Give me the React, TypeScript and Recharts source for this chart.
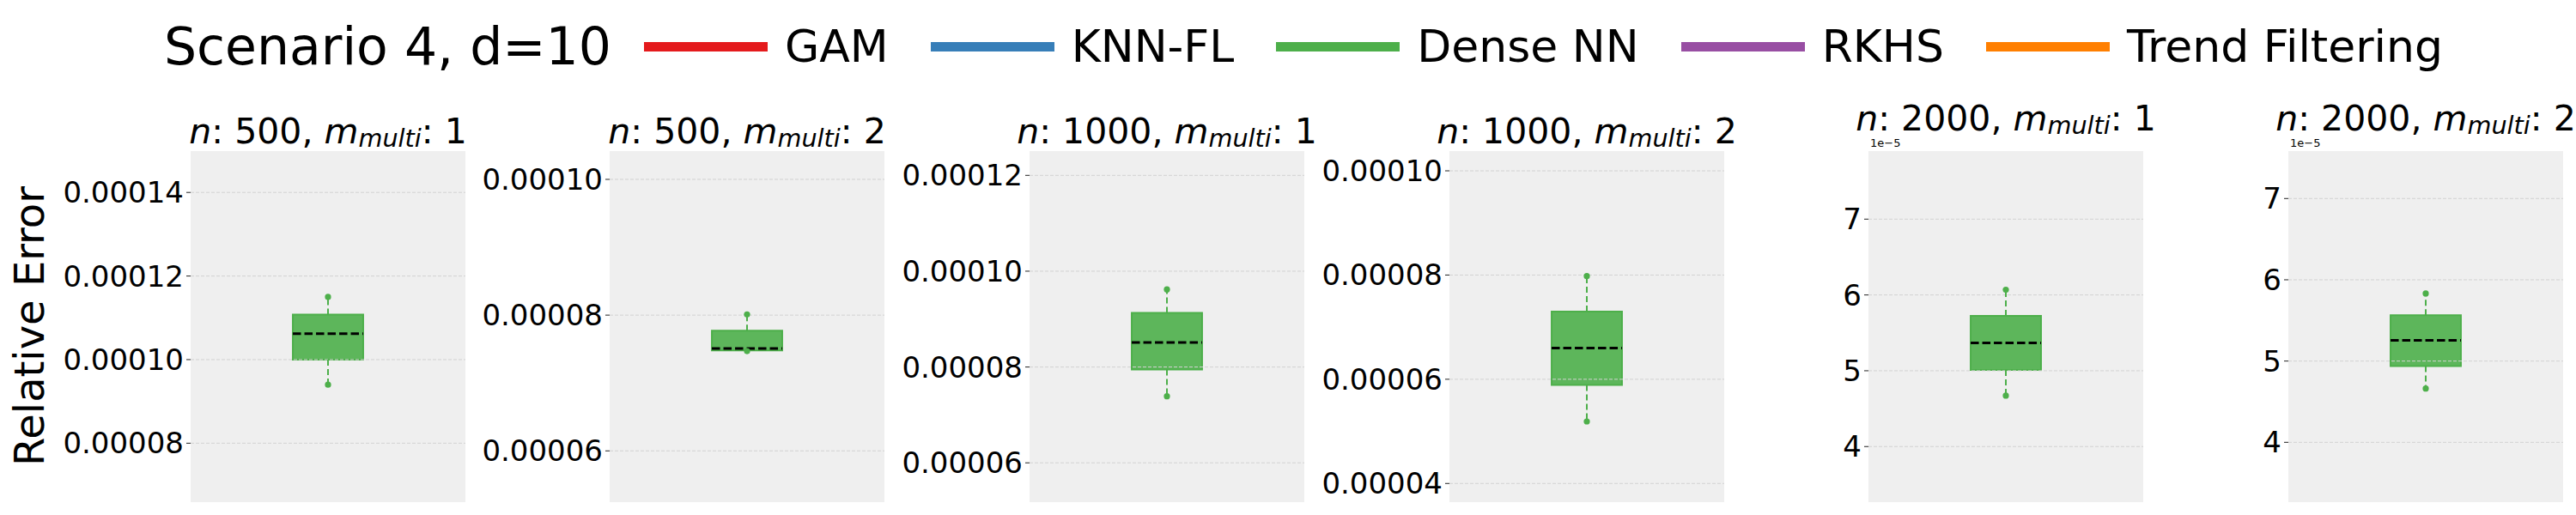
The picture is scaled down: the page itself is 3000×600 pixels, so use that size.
import React from 'react'
import { ComposedChart, XAxis, YAxis, CartesianGrid, ReferenceArea, ReferenceLine, Scatter } from 'recharts'

// panel settings
const sampleSizes = [500, 500, 1000, 1000, 2000, 2000]
const mMulti = [1, 2, 1, 2, 1, 2]

// Dense NN relative error, box summary per panel
const whiskerLow = [9.40e-5, 7.47e-5, 7.39e-5, 5.19e-5, 4.672e-5, 4.662e-5]
const quartile1 = [1.000e-4, 7.48e-5, 7.95e-5, 5.89e-5, 5.011e-5, 4.937e-5]
const medians = [1.062e-4, 7.51e-5, 8.51e-5, 6.60e-5, 5.366e-5, 5.254e-5]
const quartile3 = [1.108e-4, 7.77e-5, 9.13e-5, 7.30e-5, 5.724e-5, 5.563e-5]
const whiskerHigh = [1.150e-4, 8.01e-5, 9.62e-5, 7.98e-5, 6.068e-5, 5.831e-5]

const yDomains = [
  [6.59e-5, 1.499e-4],
  [5.245e-5, 1.0417e-4],
  [5.18e-5, 1.2507e-4],
  [3.642e-5, 1.0379e-4],
  [3.267e-5, 7.898e-5],
  [3.264e-5, 7.584e-5],
]
const yTicks = [
  [8e-5, 1e-4, 1.2e-4, 1.4e-4],
  [6e-5, 8e-5, 1e-4],
  [6e-5, 8e-5, 1e-4, 1.2e-4],
  [4e-5, 6e-5, 8e-5, 1e-4],
  [4e-5, 5e-5, 6e-5, 7e-5],
  [4e-5, 5e-5, 6e-5, 7e-5],
]
// panels whose axis shows a 1e-5 offset
const sciOffset = [false, false, false, false, true, true]

const legendLabels = ['GAM', 'KNN-FL', 'Dense NN', 'RKHS', 'Trend Filtering']
const legendColors = ['#e41a1c', '#377eb8', '#4daf4a', '#984ea3', '#ff7f00']

const FONT = '"DejaVu Sans", sans-serif'
const GREEN = '#4daf4a'
const PANEL_LEFT = [222, 710, 1199, 1688, 2176, 2665]
const PANEL_W = 320
const PANEL_TOP = 176
const PANEL_H = 409
const AXIS_W = 220
const BOX_HALF = 0.256

function Title({ i }: { i: number }) {
  const center = PANEL_LEFT[i] + PANEL_W / 2
  const top = sciOffset[i] ? 118 : 133
  return (
    <div style={{ position: 'absolute', left: center - 300, top, width: 600, textAlign: 'center', fontSize: 41, lineHeight: 1, whiteSpace: 'nowrap' }}>
      <i>n</i>: {sampleSizes[i]}, <i>m</i>
      <span style={{ fontSize: '0.7em', fontStyle: 'italic', verticalAlign: '-4px' }}>multi</span>: {mMulti[i]}
    </div>
  )
}

function Panel({ i }: { i: number }) {
  const [lo, hi] = yDomains[i]
  const dots = [
    { x: 0, y: whiskerLow[i] },
    { x: 0, y: whiskerHigh[i] },
  ]
  const fmt = (v: number) => (sciOffset[i] ? (v / 1e-5).toFixed(0) : v.toFixed(5))
  return (
    <>
      <Title i={i} />
      {sciOffset[i] && (
        <div style={{ position: 'absolute', left: PANEL_LEFT[i] + 2, top: 160, fontSize: 13, lineHeight: 1 }}>1e−5</div>
      )}
      <div style={{ position: 'absolute', left: PANEL_LEFT[i] - AXIS_W, top: PANEL_TOP }}>
        <ComposedChart width={AXIS_W + PANEL_W} height={PANEL_H} margin={{ top: 0, right: 0, bottom: 0, left: 0 }}>
          <CartesianGrid horizontal={false} vertical={false} fill="#efefef" stroke="none" />
          <XAxis type="number" dataKey="x" domain={[-1, 1]} hide />
          <YAxis
            type="number"
            dataKey="y"
            domain={[lo, hi]}
            ticks={yTicks[i]}
            interval={0}
            width={AXIS_W}
            axisLine={false}
            tickSize={5}
            tickMargin={3}
            tickLine={{ stroke: '#222', strokeWidth: 1 }}
            tick={{ fontSize: 34, fill: '#000', fontFamily: FONT }}
            tickFormatter={fmt}
            allowDataOverflow
          />
          <ReferenceArea
            x1={-BOX_HALF}
            x2={BOX_HALF}
            y1={quartile1[i]}
            y2={quartile3[i]}
            fill={GREEN}
            fillOpacity={0.9}
            stroke={GREEN}
            strokeWidth={2}
          />
          {yTicks[i].map((t) => (
            <ReferenceLine key={t} y={t} stroke="#d2d2d2" strokeWidth={1} strokeDasharray="4 2" />
          ))}
          <ReferenceLine
            segment={[{ x: 0, y: quartile3[i] }, { x: 0, y: whiskerHigh[i] }]}
            stroke={GREEN}
            strokeWidth={2}
            strokeDasharray="7 4"
          />
          <ReferenceLine
            segment={[{ x: 0, y: quartile1[i] }, { x: 0, y: whiskerLow[i] }]}
            stroke={GREEN}
            strokeWidth={2}
            strokeDasharray="7 4"
          />
          <ReferenceLine
            segment={[{ x: -BOX_HALF, y: medians[i] }, { x: BOX_HALF, y: medians[i] }]}
            stroke="#000"
            strokeWidth={3}
            strokeDasharray="9.5 4"
          />
          <Scatter
            data={dots}
            isAnimationActive={false}
            shape={(p: any) => <circle cx={p.cx} cy={p.cy} r={3.6} fill={GREEN} />}
          />
        </ComposedChart>
      </div>
    </>
  )
}

export default function App() {
  return (
    <div style={{ position: 'relative', width: 3000, height: 600, background: '#fff', fontFamily: FONT, color: '#000', overflow: 'hidden' }}>
      <style>{'body{margin:0}'}</style>

      {/* figure legend */}
      <div style={{ position: 'absolute', left: 191, top: 0, height: 108, display: 'flex', alignItems: 'center', whiteSpace: 'nowrap' }}>
        <span style={{ fontSize: 60, marginRight: 38 }}>Scenario 4, d=10</span>
        {legendLabels.map((label, k) => (
          <span key={label} style={{ display: 'flex', alignItems: 'center', marginRight: 49 }}>
            <span style={{ display: 'inline-block', width: 144, height: 11, background: legendColors[k], marginRight: 20 }} />
            <span style={{ fontSize: 52 }}>{label}</span>
          </span>
        ))}
      </div>

      {/* shared y label */}
      <div style={{ position: 'absolute', left: 34 - 250, top: 380 - 24, width: 500, height: 48, lineHeight: '48px', fontSize: 48, textAlign: 'center', transform: 'rotate(-90deg)' }}>
        Relative Error
      </div>

      {sampleSizes.map((_, i) => (
        <Panel key={i} i={i} />
      ))}
    </div>
  )
}
